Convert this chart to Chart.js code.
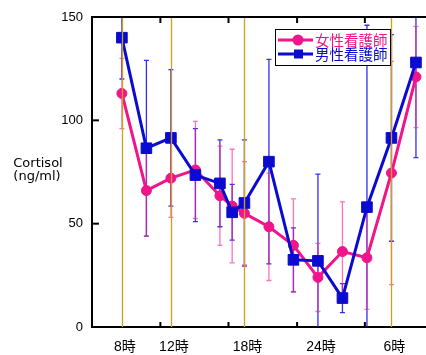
<!DOCTYPE html>
<html>
<head>
<meta charset="utf-8">
<script src="https://cdn.jsdelivr.net/npm/chart.js@4"></script>
<style>
  body { margin: 0; background: #fff; }
  canvas { display: block; }
</style>
</head>
<body>
<canvas id="c" width="426" height="355"></canvas>
<script>
// 時刻（8時〜翌8時、時間単位）
const hours = [8, 10, 12, 14, 16, 17, 18, 20, 22, 24, 26, 28, 30, 32];
const femaleMean = [113, 66, 72, 76, 63.5, 58.5, 55, 48.5, 39.5, 24, 36.5, 33.5, 74.5, 121];
const femaleSD = [17, 22, 19, 23.5, 24, 27.5, 25, 26, 22.5, 16.5, 24, 25, 54, 24.5];
const maleMean = [140, 86.5, 91.5, 73.5, 69.5, 55.5, 60, 80, 32.5, 32, 14, 58, 91.5, 128];
const maleSD = [20, 42.5, 33, 22.5, 21, 13.5, 30.5, 49.5, 15.5, 42, 7, 88, 50, 46];

const xLabelHours = [8, 12, 18, 24, 30];
const xLabels = ["8時", "12時", "18時", "24時", "6時"];
const markLines = [8, 12, 18, 30];
const xTickMarks = [5.56, 11.14, 16.7, 22.3, 27.83];
const yTicks = [0, 50, 100, 150];

const PINK = "#f0158a";
const BLUE = "#0a0ad0";

// エラーバー
const errorBars = {
  id: "errorBars",
  beforeDatasetsDraw(chart) {
    const { ctx, chartArea: a, scales: { x, y } } = chart;
    const sets = [
      { mean: maleMean, sd: maleSD, color: "rgba(20,20,235,0.88)" },
      { mean: femaleMean, sd: femaleSD, color: "rgba(255,30,140,0.62)" }
    ];
    ctx.save();
    ctx.beginPath();
    ctx.rect(a.left, a.top, a.right - a.left, a.bottom - a.top);
    ctx.clip();
    ctx.lineWidth = 1.3;
    sets.forEach(s => {
      ctx.strokeStyle = s.color;
      hours.forEach((h, i) => {
        const px = x.getPixelForValue(h);
        const t = y.getPixelForValue(s.mean[i] + s.sd[i]);
        const b = y.getPixelForValue(s.mean[i] - s.sd[i]);
        ctx.beginPath();
        ctx.moveTo(px, t); ctx.lineTo(px, b);
        ctx.moveTo(px - 2.5, t); ctx.lineTo(px + 2.5, t);
        ctx.moveTo(px - 2.5, b); ctx.lineTo(px + 2.5, b);
        ctx.stroke();
      });
    });
    ctx.restore();
  }
};

// 枠・目盛り・縦線・凡例・軸タイトル
const decor = {
  id: "decor",
  afterDatasetsDraw(chart) {
    const { ctx, chartArea: a, scales: { x, y } } = chart;
    ctx.save();
    // 黄色の縦線
    ctx.strokeStyle = "#c9a21a";
    ctx.lineWidth = 1.3;
    markLines.forEach(h => {
      const px = Math.round(x.getPixelForValue(h)) + 0.5;
      ctx.beginPath(); ctx.moveTo(px, a.top); ctx.lineTo(px, a.bottom); ctx.stroke();
    });
    // 上辺
    ctx.strokeStyle = "#000";
    ctx.lineWidth = 2;
    ctx.beginPath(); ctx.moveTo(a.left, a.top); ctx.lineTo(a.right, a.top); ctx.stroke();
    // 内向き目盛り
    xTickMarks.forEach(h => {
      const px = x.getPixelForValue(h);
      ctx.beginPath();
      ctx.moveTo(px, a.bottom); ctx.lineTo(px, a.bottom - 5);
      ctx.moveTo(px, a.top); ctx.lineTo(px, a.top + 6);
      ctx.stroke();
    });
    yTicks.forEach(v => {
      const py = y.getPixelForValue(v);
      ctx.beginPath(); ctx.moveTo(a.left, py); ctx.lineTo(a.left + 7, py); ctx.stroke();
    });
    // 凡例
    const lx = 275, ly = 29, lw = 115, lh = 36;
    ctx.fillStyle = "#fff";
    ctx.fillRect(lx, ly, lw, lh);
    ctx.lineWidth = 1;
    ctx.strokeStyle = "#000";
    ctx.strokeRect(lx + 0.5, ly + 0.5, lw, lh);
    ctx.font = '14.5px "Noto Sans CJK JP"';
    ctx.textBaseline = "middle";
    chart.data.datasets.forEach((ds, i) => {
      const cy = ly + 11 + i * 14;
      ctx.strokeStyle = ds.borderColor;
      ctx.lineWidth = 3;
      ctx.beginPath(); ctx.moveTo(lx + 3, cy); ctx.lineTo(lx + 38, cy); ctx.stroke();
      ctx.fillStyle = ds.borderColor;
      if (ds.pointStyle === "rect") {
        ctx.fillRect(lx + 19, cy - 4.5, 9, 9);
      } else {
        ctx.beginPath(); ctx.arc(lx + 23, cy, 5.5, 0, Math.PI * 2); ctx.fill();
      }
      ctx.fillText(ds.label, lx + 40, cy + 0.5);
    });
    // 軸タイトル
    ctx.fillStyle = "#000";
    ctx.font = '13px "DejaVu Sans"';
    ctx.textAlign = "center";
    ctx.fillText("Cortisol", 38, 164);
    ctx.fillText("(ng/ml)", 37, 177);
    ctx.restore();
  }
};

new Chart(document.getElementById("c"), {
  type: "line",
  data: {
    datasets: [
      {
        label: "女性看護師",
        data: hours.map((h, i) => ({ x: h, y: femaleMean[i] })),
        borderColor: PINK,
        backgroundColor: PINK,
        borderWidth: 3,
        pointStyle: "circle",
        pointRadius: 5,
        pointBorderWidth: 1,
        order: 1
      },
      {
        label: "男性看護師",
        data: hours.map((h, i) => ({ x: h, y: maleMean[i] })),
        borderColor: BLUE,
        backgroundColor: BLUE,
        borderWidth: 3,
        pointStyle: "rect",
        pointRadius: 7.5,
        pointBorderWidth: 1,
        order: 0
      }
    ]
  },
  options: {
    responsive: false,
    animation: false,
    devicePixelRatio: 1,
    layout: { autoPadding: false, padding: { top: 17, right: 0, left: 0, bottom: 0 } },
    plugins: { legend: { display: false }, tooltip: { enabled: false } },
    scales: {
      x: {
        type: "linear",
        min: 5.56,
        max: 32.82,
        afterBuildTicks: s => { s.ticks = xLabelHours.map(v => ({ value: v })); },
        afterFit: s => { s.height = 28; s.paddingLeft = 0; s.paddingRight = 0; },
        grid: { display: false, drawTicks: false },
        border: { display: true, color: "#000", width: 2 },
        ticks: {
          callback: (v, i) => xLabels[i],
          autoSkip: false,
          maxRotation: 0,
          padding: 12,
          labelOffset: 3,
          color: "#000",
          font: { family: '"Liberation Sans", "Noto Sans CJK JP"', size: 14 }
        }
      },
      y: {
        min: 0,
        max: 150,
        afterBuildTicks: s => { s.ticks = yTicks.map(v => ({ value: v })); },
        afterFit: s => { s.width = 92; },
        grid: { display: false, drawTicks: false },
        border: { display: true, color: "#000", width: 2 },
        ticks: {
          padding: 9,
          color: "#000",
          font: { family: '"Liberation Sans"', size: 13 }
        }
      }
    }
  },
  plugins: [errorBars, decor]
});
</script>
</body>
</html>
